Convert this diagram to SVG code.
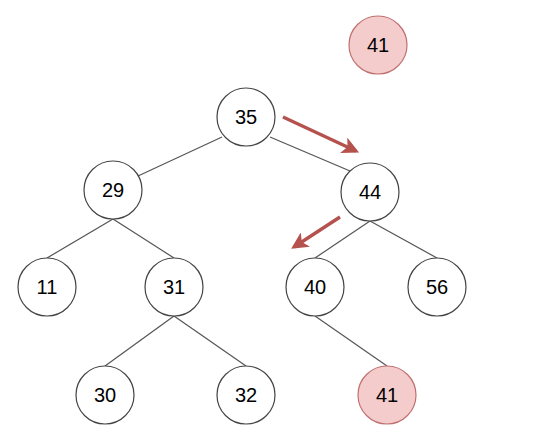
<svg xmlns="http://www.w3.org/2000/svg" width="555" height="432" viewBox="0 0 555 432">
<style>
.n circle{fill:#ffffff;stroke:#444444;stroke-width:1.2}
.n.hl circle{fill:#f4cccc;stroke:#c07070}
.n text{font-family:"Liberation Sans",Arial,sans-serif;font-size:20px;fill:#000000;text-anchor:middle;dominant-baseline:central}
.e line{stroke:#555555;stroke-width:1.2}
.a line{stroke:#b5524e;stroke-width:3.4}
</style>
<defs>
<marker id="ah" viewBox="0 0 10 10" refX="8" refY="5" markerWidth="5" markerHeight="5" orient="auto" markerUnits="strokeWidth">
<path d="M0,0 L10,5 L0,10 L2.5,5 Z" fill="#b5524e"/>
</marker>
</defs>
<rect width="555" height="432" fill="#ffffff"/>
<g id="connectors" class="e">
<line x1="222" y1="137" x2="138" y2="176"/>
<line x1="270" y1="137" x2="350" y2="171"/>
<line x1="113" y1="219" x2="47" y2="258"/>
<line x1="113" y1="219" x2="174" y2="258"/>
<line x1="370" y1="221" x2="315" y2="258"/>
<line x1="370" y1="221" x2="437" y2="258"/>
<line x1="174" y1="316" x2="105" y2="366"/>
<line x1="174" y1="316" x2="246" y2="366"/>
<line x1="315" y1="316" x2="387" y2="366"/>
</g>
<g id="arrows" class="a">
<line x1="283" y1="117" x2="356" y2="151" marker-end="url(#ah)"/>
<line x1="340" y1="217" x2="294" y2="247" marker-end="url(#ah)"/>
</g>
<g id="n41top" class="n hl"><circle cx="378" cy="45" r="29"/><text x="378" y="45">41</text></g>
<g id="n35" class="n"><circle cx="246" cy="117" r="29"/><text x="246" y="117">35</text></g>
<g id="n29" class="n"><circle cx="113" cy="190" r="29"/><text x="113" y="190">29</text></g>
<g id="n44" class="n"><circle cx="370" cy="192" r="29"/><text x="370" y="192">44</text></g>
<g id="n11" class="n"><circle cx="47" cy="287" r="29"/><text x="47" y="287">11</text></g>
<g id="n31" class="n"><circle cx="174" cy="287" r="29"/><text x="174" y="287">31</text></g>
<g id="n40" class="n"><circle cx="315" cy="287" r="29"/><text x="315" y="287">40</text></g>
<g id="n56" class="n"><circle cx="437" cy="287" r="29"/><text x="437" y="287">56</text></g>
<g id="n30" class="n"><circle cx="105" cy="395" r="29"/><text x="105" y="395">30</text></g>
<g id="n32" class="n"><circle cx="246" cy="395" r="29"/><text x="246" y="395">32</text></g>
<g id="n41" class="n hl"><circle cx="387" cy="395" r="29"/><text x="387" y="395">41</text></g>
</svg>
